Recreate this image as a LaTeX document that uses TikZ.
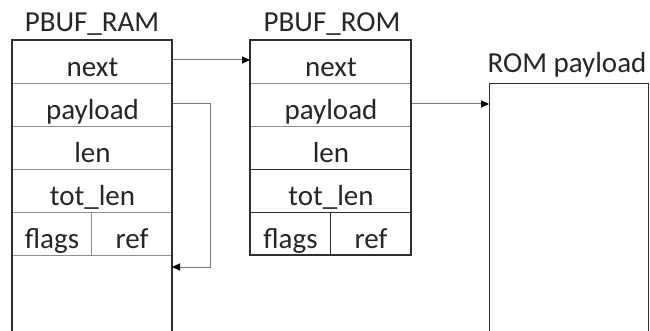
\documentclass[tikz,border=0pt]{standalone}
\usepackage{fontspec}
\setmainfont{Carlito}
\usetikzlibrary{arrows.meta}
\definecolor{edge}{HTML}{2E2E2E}
\definecolor{rule}{HTML}{8C8C8C}
\definecolor{wire}{HTML}{7A7A7A}
\tikzset{
  txt/.style={font=\fontsize{29}{29}\selectfont, text=black!85},
  cell/.style={txt, rectangle, draw=rule, line width=1pt, inner sep=0pt,
               text height=34pt, text depth=5pt,
               minimum width=160pt, minimum height=43pt, anchor=north west},
  halfcell/.style={cell, minimum width=80pt},
  title/.style={txt, inner sep=0pt, anchor=base},
  frame/.style={draw=edge, line width=1.3pt},
  link/.style={draw=wire, line width=1pt,
               -{Triangle[length=8pt,width=7pt,color=black]}}
}
\begin{document}
\begin{tikzpicture}[x=1pt,y=-1pt]
\useasboundingbox (0,0) rectangle (650,331);

% PBUF_RAM structure
\node[title] (ramtitle) at (92,32) {PBUF\_RAM};
\node[cell] (ramnext) at (12,40) {next};
\node[cell] (rampay) at (12,83) {payload};
\node[cell] (ramlen) at (12,126) {len};
\node[cell] (ramtot) at (12,169) {tot\_len};
\node[halfcell, minimum width=79pt] (ramflags) at (12,212) {flags};
\node[halfcell, minimum width=81pt] (ramref) at (91,212) {ref};
\draw[frame] (12,332) -- (12,40) -- (172,40) -- (172,332);

% PBUF_ROM structure
\node[title] (romtitle) at (332,32) {PBUF\_ROM};
\node[cell, minimum width=161pt] (romnext) at (250,40) {next};
\node[cell, minimum width=161pt] (rompay) at (250,83) {payload};
\node[cell, minimum width=161pt] (romlen) at (250,126) {len};
\node[cell, minimum width=161pt, draw=edge] (romtot) at (250,169) {tot\_len};
\node[halfcell, draw=edge] (romflags) at (250,212) {flags};
\node[halfcell, minimum width=81pt, draw=edge] (romref) at (330,212) {ref};
\draw[frame] (250,40) rectangle (411,255);

% ROM payload area
\node[title] (datatitle) at (567,73) {ROM payload};
\node[rectangle, frame, inner sep=0pt, minimum width=159pt, minimum height=250pt,
      anchor=north west] (romdata) at (489,83) {};

% pointers
\coordinate (ramback) at (172,267);
\draw[link] (ramnext.north east |- 0,60) -- (romnext.west |- 0,60);
\draw[link] (rompay.east |- 0,104) -- (romdata.west |- 0,104);
\draw[link] (rampay.east |- 0,104) -- (210,104) |- (ramback);
\end{tikzpicture}
\end{document}
